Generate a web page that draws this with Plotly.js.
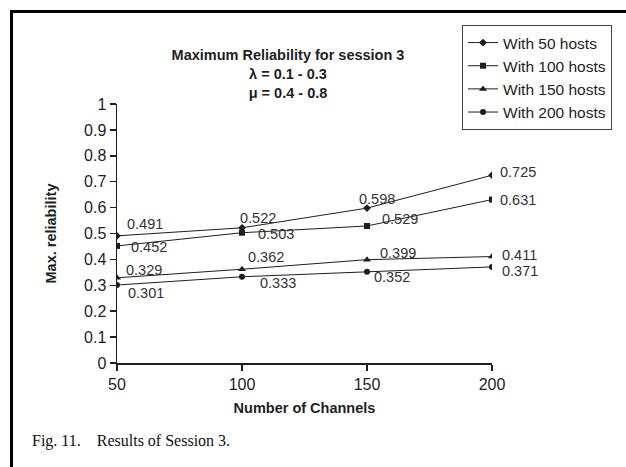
<!DOCTYPE html>
<html>
<head>
<meta charset="utf-8">
<script src="https://cdn.plot.ly/plotly-3.0.1.min.js"></script>
<style>
  html, body { margin: 0; padding: 0; background: #fff; }
  #wrap { position: relative; width: 626px; height: 467px; overflow: hidden; }
  #chart { position: absolute; left: 0; top: 0; width: 626px; height: 467px; }
  /* heavy page frame along the top and left edges */
  #frame { position: absolute; left: 10px; top: 10px; width: 640px; height: 480px;
           border-top: 3px solid #000; border-left: 3px solid #000; pointer-events: none; }
  #caption { position: absolute; left: 32px; top: 432px; font-family: "Liberation Serif", "Times New Roman", serif;
             font-size: 16px; color: #111; white-space: pre; }
</style>
</head>
<body>
<div id="wrap">
  <div id="chart"></div>
  <div id="frame"></div>
  <div id="caption">Fig. 11.    Results of Session 3.</div>
</div>
<script>
// Number of channels on the x axis
const channels = [50, 100, 150, 200];

// Maximum reliability per host count
const hosts50  = [0.491, 0.522, 0.598, 0.725];
const hosts100 = [0.452, 0.503, 0.529, 0.631];
const hosts150 = [0.329, 0.362, 0.399, 0.411];
const hosts200 = [0.301, 0.333, 0.352, 0.371];

const seriesNames = ['With 50 hosts', 'With 100 hosts', 'With 150 hosts', 'With 200 hosts'];
const seriesSymbols = ['diamond', 'square', 'triangle-up', 'circle'];

// Per-point label nudges in pixels: [xshift, yshift]
const labelNudges = [
  [[8, 12], [-4, 10], [-10, 9], [6, 3]],
  [[12, -1], [14, -1], [13, 7], [6, 0]],
  [[7, 8], [4, 12], [11, 7], [8, 2]],
  [[9, -8], [16, -6], [5, -5], [8, -4]]
];

const allSeries = [hosts50, hosts100, hosts150, hosts200];
const ink = '#1e1e1e';
const sans = '"Liberation Sans", Arial, sans-serif';

const traces = allSeries.map((vals, i) => ({
  x: channels,
  y: vals,
  name: seriesNames[i],
  type: 'scatter',
  mode: 'lines+markers',
  line: { color: ink, width: 1 },
  marker: { symbol: seriesSymbols[i], size: i === 2 ? 7 : 6, color: ink }
}));

const annotations = [];
allSeries.forEach((vals, i) => {
  vals.forEach((v, j) => {
    annotations.push({
      x: channels[j], y: v, xref: 'x', yref: 'y',
      text: v.toFixed(3),
      showarrow: false,
      xanchor: 'left', yanchor: 'middle',
      xshift: labelNudges[i][j][0], yshift: labelNudges[i][j][1],
      font: { family: sans, size: 14.5, color: '#333' }
    });
  });
});

const layout = {
  width: 626, height: 467,
  margin: { l: 117, r: 134, t: 104, b: 104 },
  paper_bgcolor: '#fff', plot_bgcolor: '#fff',
  font: { family: sans, color: ink },
  title: {
    text: '<b>Maximum Reliability for session 3<br>λ = 0.1 - 0.3<br>μ = 0.4 - 0.8</b>',
    font: { family: sans, size: 14.5, color: ink },
    x: 288 / 626, xanchor: 'center', xref: 'container',
    y: 1 - 60 / 467, yanchor: 'top', yref: 'container'
  },
  xaxis: {
    range: [50, 200], tickvals: channels, ticktext: channels.map(String),
    showgrid: false, zeroline: false, showline: true, linecolor: ink, linewidth: 1.5,
    ticks: 'outside', ticklen: 6, tickwidth: 1.5, tickcolor: ink,
    tickfont: { family: sans, size: 16, color: ink },
    title: { text: '<b>Number of Channels</b>', font: { family: sans, size: 14.5, color: ink }, standoff: 11 }
  },
  yaxis: {
    range: [0, 1],
    tickvals: [0, 0.1, 0.2, 0.3, 0.4, 0.5, 0.6, 0.7, 0.8, 0.9, 1],
    ticktext: ['0', '0.1', '0.2', '0.3', '0.4', '0.5', '0.6', '0.7', '0.8', '0.9', '1'],
    showgrid: false, zeroline: false, showline: true, linecolor: ink, linewidth: 1.5,
    ticks: 'outside', ticklen: 6, tickwidth: 1.5, tickcolor: ink,
    tickfont: { family: sans, size: 16, color: ink },
    title: { text: '<b>Max. reliability</b>', font: { family: sans, size: 14.5, color: ink }, standoff: 24 }
  },
  showlegend: true,
  legend: {
    x: (462 - 117) / 375, xanchor: 'left',
    y: (363 - 25) / 259, yanchor: 'top',
    bgcolor: '#fff', bordercolor: '#444', borderwidth: 1,
    font: { family: sans, size: 15.5, color: ink },
    tracegroupgap: 0
  },
  annotations: annotations
};

Plotly.newPlot('chart', traces, layout, { displayModeBar: false, staticPlot: true });
</script>
</body>
</html>
